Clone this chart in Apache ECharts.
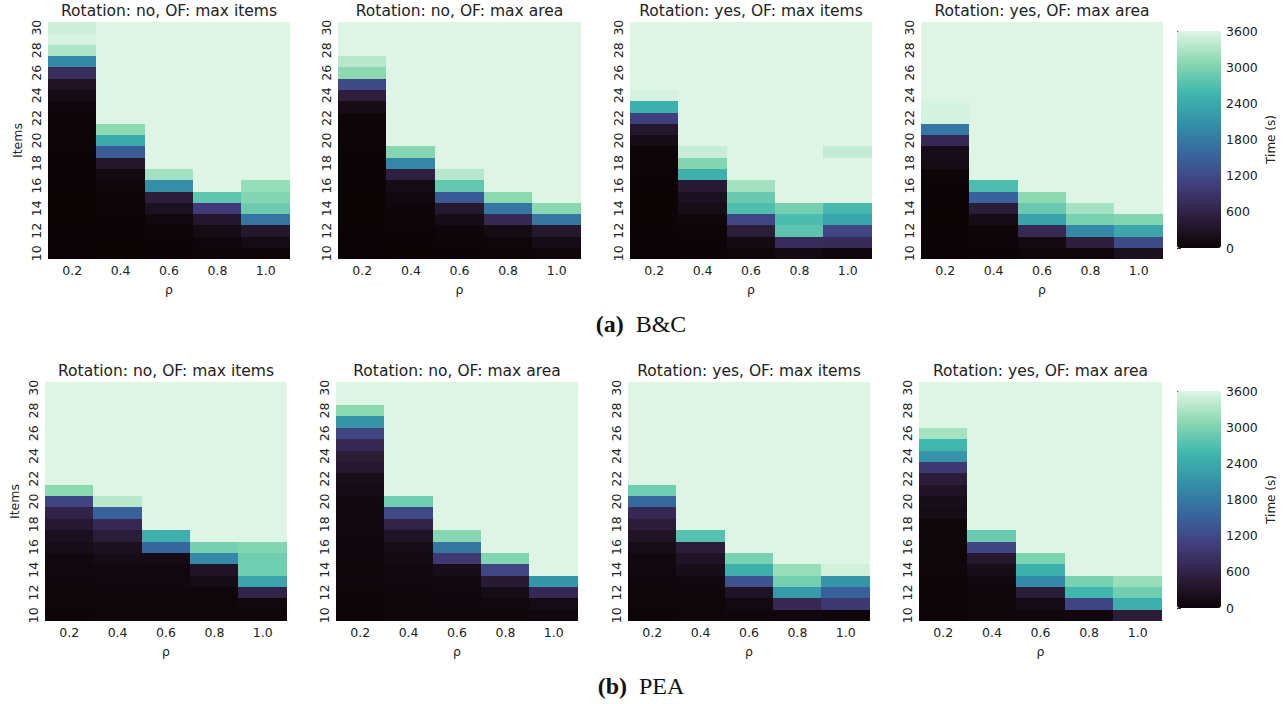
<!DOCTYPE html>
<html>
<head>
<meta charset="utf-8">
<title>Solve time heatmaps</title>
<script src="https://cdn.jsdelivr.net/npm/echarts@6/dist/echarts.min.js"></script>
<style>
  html, body { margin: 0; padding: 0; background: #fff; }
  #chart { width: 1288px; height: 704px; }
  /* no anti-aliased seams between heatmap cells */
  #chart svg path, #chart svg rect { shape-rendering: crispEdges; }
</style>
</head>
<body>
<div id="chart"></div>
<script>
// axis categories
const rhoLabels = ['0.2', '0.4', '0.6', '0.8', '1.0'];
const itemLabels = ['10', '11', '12', '13', '14', '15', '16', '17', '18', '19', '20',
  '21', '22', '23', '24', '25', '26', '27', '28', '29', '30'];
const timeTicks = [0, 600, 1200, 1800, 2400, 3000, 3600];

// solve time (s) per rho column, items 10 -> 30 (3600 = time limit)
const bcNoItems = [
  [5, 5, 8, 10, 10, 12, 15, 15, 20, 20, 25, 30, 35, 45, 160, 277, 790, 2000, 3300, 3550, 3480],
  [10, 10, 15, 20, 25, 35, 50, 110, 356, 1414, 2415, 3100, 3600, 3600, 3600, 3600, 3600, 3600, 3600, 3600, 3600],
  [15, 20, 30, 70, 250, 490, 2050, 3230, 3600, 3600, 3600, 3600, 3600, 3600, 3600, 3600, 3600, 3600, 3600, 3600, 3600],
  [30, 45, 140, 360, 1000, 2780, 3600, 3600, 3600, 3600, 3600, 3600, 3600, 3600, 3600, 3600, 3600, 3600, 3600, 3600, 3600],
  [30, 140, 360, 1730, 2880, 3040, 3160, 3600, 3600, 3600, 3600, 3600, 3600, 3600, 3600, 3600, 3600, 3600, 3600, 3600, 3600]
];
const bcNoArea = [
  [5, 5, 8, 10, 10, 12, 15, 15, 20, 20, 25, 30, 40, 160, 510, 1190, 3090, 3360, 3600, 3600, 3600],
  [10, 15, 20, 30, 45, 80, 160, 530, 1970, 3060, 3600, 3600, 3600, 3600, 3600, 3600, 3600, 3600, 3600, 3600, 3600],
  [20, 30, 45, 160, 390, 1380, 2820, 3360, 3600, 3600, 3600, 3600, 3600, 3600, 3600, 3600, 3600, 3600, 3600, 3600, 3600],
  [30, 40, 130, 720, 1730, 3090, 3600, 3600, 3600, 3600, 3600, 3600, 3600, 3600, 3600, 3600, 3600, 3600, 3600, 3600, 3600],
  [50, 150, 380, 1760, 3070, 3600, 3600, 3600, 3600, 3600, 3600, 3600, 3600, 3600, 3600, 3600, 3600, 3600, 3600, 3600, 3600]
];
const bcYesItems = [
  [5, 5, 8, 10, 10, 12, 15, 20, 25, 35, 150, 380, 1060, 2480, 3540, 3600, 3600, 3600, 3600, 3600, 3600],
  [15, 20, 30, 50, 170, 250, 440, 2500, 3040, 3460, 3600, 3600, 3600, 3600, 3600, 3600, 3600, 3600, 3600, 3600, 3600],
  [40, 120, 470, 1150, 2680, 2860, 3240, 3600, 3600, 3600, 3600, 3600, 3600, 3600, 3600, 3600, 3600, 3600, 3600, 3600, 3600],
  [120, 760, 2760, 2650, 2930, 3600, 3600, 3600, 3600, 3600, 3600, 3600, 3600, 3600, 3600, 3600, 3600, 3600, 3600, 3600, 3600],
  [60, 740, 1150, 2330, 2620, 3600, 3600, 3600, 3600, 3440, 3600, 3600, 3600, 3600, 3600, 3600, 3600, 3600, 3600, 3600, 3600]
];
const bcYesArea = [
  [5, 5, 8, 10, 12, 15, 20, 30, 150, 180, 700, 1750, 3540, 3550, 3600, 3600, 3600, 3600, 3600, 3600, 3600],
  [20, 30, 50, 150, 470, 1480, 2660, 3600, 3600, 3600, 3600, 3600, 3600, 3600, 3600, 3600, 3600, 3600, 3600, 3600, 3600],
  [50, 120, 720, 2320, 2860, 3100, 3600, 3600, 3600, 3600, 3600, 3600, 3600, 3600, 3600, 3600, 3600, 3600, 3600, 3600, 3600],
  [60, 510, 2000, 2960, 3250, 3600, 3600, 3600, 3600, 3600, 3600, 3600, 3600, 3600, 3600, 3600, 3600, 3600, 3600, 3600, 3600],
  [240, 1210, 2370, 3030, 3600, 3600, 3600, 3600, 3600, 3600, 3600, 3600, 3600, 3600, 3600, 3600, 3600, 3600, 3600, 3600, 3600]
];
const peaNoItems = [
  [30, 40, 50, 60, 80, 100, 170, 240, 400, 620, 1130, 3100, 3600, 3600, 3600, 3600, 3600, 3600, 3600, 3600, 3600],
  [40, 50, 60, 70, 90, 150, 240, 470, 720, 1480, 3370, 3600, 3600, 3600, 3600, 3600, 3600, 3600, 3600, 3600, 3600],
  [40, 50, 60, 70, 80, 150, 1540, 2470, 3600, 3600, 3600, 3600, 3600, 3600, 3600, 3600, 3600, 3600, 3600, 3600, 3600],
  [40, 50, 60, 150, 300, 2000, 2940, 3600, 3600, 3600, 3600, 3600, 3600, 3600, 3600, 3600, 3600, 3600, 3600, 3600, 3600],
  [40, 70, 620, 2330, 2900, 2900, 3030, 3600, 3600, 3600, 3600, 3600, 3600, 3600, 3600, 3600, 3600, 3600, 3600, 3600, 3600]
];
const peaNoArea = [
  [30, 35, 40, 45, 50, 55, 60, 70, 80, 90, 100, 140, 190, 380, 470, 700, 1130, 2150, 3100, 3600, 3600],
  [40, 50, 60, 80, 100, 120, 170, 300, 600, 1180, 2900, 3600, 3600, 3600, 3600, 3600, 3600, 3600, 3600, 3600, 3600],
  [40, 60, 80, 100, 190, 960, 1760, 3060, 3600, 3600, 3600, 3600, 3600, 3600, 3600, 3600, 3600, 3600, 3600, 3600, 3600],
  [50, 70, 150, 440, 1150, 3020, 3600, 3600, 3600, 3600, 3600, 3600, 3600, 3600, 3600, 3600, 3600, 3600, 3600, 3600, 3600],
  [80, 140, 700, 2150, 3600, 3600, 3600, 3600, 3600, 3600, 3600, 3600, 3600, 3600, 3600, 3600, 3600, 3600, 3600, 3600, 3600]
];
const peaYesItems = [
  [30, 40, 50, 60, 80, 100, 170, 300, 470, 700, 1590, 2900, 3600, 3600, 3600, 3600, 3600, 3600, 3600, 3600, 3600],
  [40, 50, 60, 70, 190, 300, 470, 2720, 3600, 3600, 3600, 3600, 3600, 3600, 3600, 3600, 3600, 3600, 3600, 3600, 3600],
  [60, 110, 300, 1310, 2470, 2960, 3600, 3600, 3600, 3600, 3600, 3600, 3600, 3600, 3600, 3600, 3600, 3600, 3600, 3600, 3600],
  [80, 720, 2200, 2930, 3180, 3600, 3600, 3600, 3600, 3600, 3600, 3600, 3600, 3600, 3600, 3600, 3600, 3600, 3600, 3600, 3600],
  [60, 960, 1480, 2150, 3520, 3600, 3600, 3600, 3600, 3600, 3600, 3600, 3600, 3600, 3600, 3600, 3600, 3600, 3600, 3600, 3600]
];
const peaYesArea = [
  [20, 25, 30, 35, 40, 45, 50, 60, 40, 160, 190, 300, 470, 960, 2120, 2570, 3250, 3600, 3600, 3600, 3600],
  [40, 50, 60, 70, 190, 380, 1130, 2860, 3600, 3600, 3600, 3600, 3600, 3600, 3600, 3600, 3600, 3600, 3600, 3600, 3600],
  [60, 140, 470, 2000, 2480, 2990, 3600, 3600, 3600, 3600, 3600, 3600, 3600, 3600, 3600, 3600, 3600, 3600, 3600, 3600, 3600],
  [80, 1130, 2570, 2960, 3600, 3600, 3600, 3600, 3600, 3600, 3600, 3600, 3600, 3600, 3600, 3600, 3600, 3600, 3600, 3600, 3600],
  [470, 2470, 2900, 3180, 3600, 3600, 3600, 3600, 3600, 3600, 3600, 3600, 3600, 3600, 3600, 3600, 3600, 3600, 3600, 3600, 3600]
];

const panelTitles = ['Rotation: no, OF: max items', 'Rotation: no, OF: max area',
  'Rotation: yes, OF: max items', 'Rotation: yes, OF: max area'];
const panelData = [bcNoItems, bcNoArea, bcYesItems, bcYesArea,
  peaNoItems, peaNoArea, peaYesItems, peaYesArea];

// seaborn "mako" colormap stops
const mako = ['#0B0405', '#2E1E3C', '#413D7B', '#37659E', '#348FA7', '#40B7AD', '#8AD9B1', '#DEF5E5'];

const FONT = 'DejaVu Sans';
const TXT = '#222';

// layout of the 2x4 heatmaps
const rowTop = [22, 382];
const rowHeight = [237, 239];
const colLeft = [[48, 338, 630, 921], [45, 336, 628, 919]];
const colWidth = [[242, 243, 242, 242], [242, 242, 242, 243]];
const cbar = { left: 1177, width: 44, top: [31, 391], height: 217 };

const grids = [], xAxes = [], yAxes = [], series = [], graphics = [];

panelData.forEach((cols, i) => {
  const row = Math.floor(i / 4), col = i % 4;
  const left = colLeft[row][col], width = colWidth[row][col];
  grids.push({ left: left, top: rowTop[row], width: width, height: rowHeight[row] });

  xAxes.push({
    gridIndex: i, type: 'category', data: rhoLabels,
    axisLine: { show: false },
    axisTick: { alignWithLabel: true, length: 4, lineStyle: { color: '#333' } },
    axisLabel: { fontSize: 12.5, color: TXT, fontFamily: FONT, margin: 5 },
    splitArea: { show: false }, splitLine: { show: false },
    name: 'ρ', nameLocation: 'middle', nameGap: 24,
    nameTextStyle: { fontSize: 12.5, color: TXT, fontFamily: FONT }
  });
  yAxes.push({
    gridIndex: i, type: 'category', data: itemLabels,
    axisLine: { show: false },
    axisTick: { alignWithLabel: true, interval: 1, length: 4, lineStyle: { color: '#333' } },
    axisLabel: { interval: 1, rotate: 90, fontSize: 12.5, color: TXT, fontFamily: FONT, margin: 5 },
    splitArea: { show: false }, splitLine: { show: false },
    name: col === 0 ? 'Items' : '', nameLocation: 'middle', nameGap: 24, nameRotate: 90,
    nameTextStyle: { fontSize: 12.5, color: TXT, fontFamily: FONT }
  });

  const data = [];
  cols.forEach((vals, c) => vals.forEach((v, r) => data.push([c, r, v])));
  series.push({
    type: 'heatmap', xAxisIndex: i, yAxisIndex: i, data: data,
    itemStyle: { borderWidth: 0 },
    emphasis: { disabled: true }, progressive: 0
  });

  graphics.push({
    type: 'text', x: left + width / 2, y: row === 0 ? 11 : 371,
    style: { text: panelTitles[col], align: 'center', verticalAlign: 'middle',
      fontSize: 15.5, fontFamily: FONT, fill: TXT }
  });
});

// colorbar tick axes (one per row)
[0, 1].forEach(row => {
  const g = grids.length;
  grids.push({ left: cbar.left, top: cbar.top[row], width: cbar.width, height: cbar.height });
  xAxes.push({ gridIndex: g, type: 'value', show: false });
  yAxes.push({
    gridIndex: g, type: 'value', position: 'right',
    min: timeTicks[0], max: timeTicks[timeTicks.length - 1], interval: timeTicks[1] - timeTicks[0],
    axisLine: { show: false }, splitLine: { show: false },
    axisTick: { show: true, length: 4, lineStyle: { color: '#333' } },
    axisLabel: { fontSize: 12.5, color: TXT, fontFamily: FONT, margin: 5, formatter: v => String(v) },
    name: 'Time (s)', nameLocation: 'middle', nameRotate: 90, nameGap: 44,
    nameTextStyle: { fontSize: 12, color: TXT, fontFamily: FONT }
  });
});

// sub-figure captions
[['(a)', 'B&C', 324], ['(b)', 'PEA', 686]].forEach(([tag, label, y]) => {
  graphics.push({
    type: 'text', x: 641, y: y,
    style: {
      text: '{b|' + tag + '}\u2002' + label, align: 'center', verticalAlign: 'middle',
      fontSize: 24, fontFamily: 'Liberation Serif', fill: '#111',
      rich: { b: { fontSize: 24, fontWeight: 'bold', fontFamily: 'Liberation Serif', fill: '#111' } }
    }
  });
});

const chart = echarts.init(document.getElementById('chart'), null, { renderer: 'svg' });
chart.setOption({
  backgroundColor: '#fff',
  animation: false,
  grid: grids,
  xAxis: xAxes,
  yAxis: yAxes,
  visualMap: [0, 1].map(row => ({
    type: 'continuous', min: 0, max: 3600,
    seriesIndex: row === 0 ? [0, 1, 2, 3] : [4, 5, 6, 7],
    left: cbar.left, top: cbar.top[row],
    itemWidth: cbar.width, itemHeight: cbar.height,
    padding: 0, calculable: false, hoverLink: false,
    text: null, textGap: 0, showLabel: false,
    indicatorSize: 0, handleSize: 0,
    inRange: { color: mako }
  })),
  series: series,
  graphic: graphics
});
</script>
</body>
</html>
